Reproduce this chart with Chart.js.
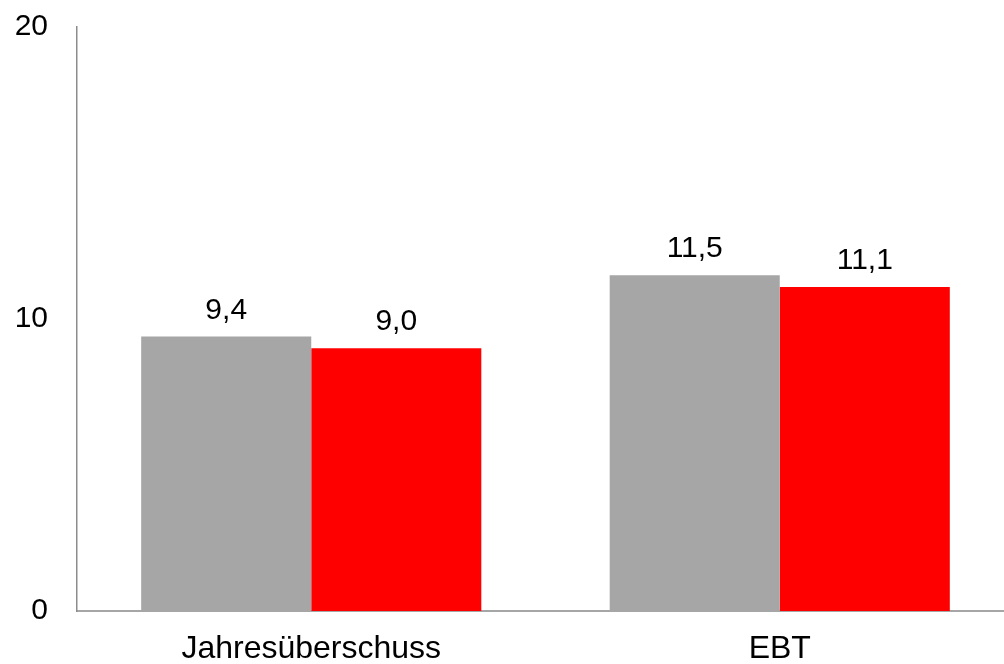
<!DOCTYPE html>
<html lang="de">
<head>
    <meta charset="UTF-8">
    <title>Jahresüberschuss und EBT</title>
    <script src="https://cdn.jsdelivr.net/npm/chart.js"></script>
    <style>
        html, body {
            margin: 0;
            padding: 0;
            background: white;
            overflow: hidden;
        }
        #wrap {
            width: 1014px;
            height: 664px;
        }
    </style>
</head>
<body>
    <div id="wrap"><canvas id="barChart"></canvas></div>

    <script>
        const categories = ['Jahresüberschuss', 'EBT'];
        const seriesGray = [9.4, 11.5];
        const seriesRed = [9.0, 11.1];
        const yTicks = [0, 10, 20];

        const font = "'Liberation Sans', Arial, sans-serif";

        // value labels above the bars, German decimal comma
        const valueLabels = {
            id: 'valueLabels',
            afterDatasetsDraw(chart) {
                const c = chart.ctx;
                c.save();
                c.font = '30px ' + font;
                c.fillStyle = '#000';
                c.textAlign = 'center';
                c.textBaseline = 'alphabetic';
                chart.data.datasets.forEach((ds, i) => {
                    chart.getDatasetMeta(i).data.forEach((bar, j) => {
                        c.fillText(ds.data[j].toFixed(1).replace('.', ','), bar.x, bar.y - 18);
                    });
                });
                c.restore();
            }
        };

        new Chart(document.getElementById('barChart'), {
            type: 'bar',
            data: {
                labels: categories,
                datasets: [
                    { data: seriesGray, backgroundColor: '#A6A6A6', borderWidth: 0 },
                    { data: seriesRed, backgroundColor: '#FF0000', borderWidth: 0 }
                ]
            },
            options: {
                responsive: true,
                maintainAspectRatio: false,
                animation: false,
                devicePixelRatio: 1,
                layout: { padding: { top: 27, right: 0, bottom: 0, left: 0 } },
                plugins: {
                    legend: { display: false },
                    tooltip: { enabled: false }
                },
                datasets: {
                    bar: { barPercentage: 1.0, categoryPercentage: 0.726 }
                },
                scales: {
                    x: {
                        grid: { display: false, drawTicks: false },
                        border: { display: true, color: '#A6A6A6', width: 2 },
                        ticks: { color: '#000', font: { family: font, size: 32 }, padding: 19, maxRotation: 0 },
                        afterFit: s => { s.height = 53; s.paddingLeft = 0; s.paddingRight = 0; }
                    },
                    y: {
                        min: yTicks[0],
                        max: yTicks[yTicks.length - 1],
                        grid: { display: false, drawTicks: false },
                        border: { display: true, color: '#8C8C8C', width: 1.5 },
                        afterBuildTicks: s => { s.ticks = yTicks.map(v => ({ value: v })); },
                        ticks: { color: '#000', font: { family: font, size: 30 }, padding: 29 },
                        afterFit: s => { s.width = 77; s.paddingTop = 0; s.paddingBottom = 0; }
                    }
                }
            },
            plugins: [valueLabels]
        });
    </script>
</body>
</html>
